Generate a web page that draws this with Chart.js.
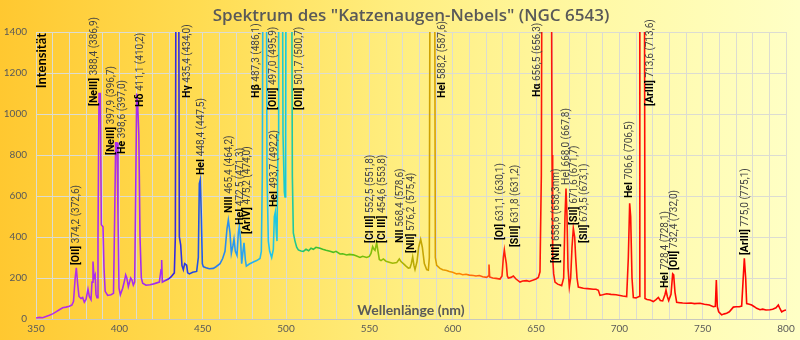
<!DOCTYPE html>
<html><head><meta charset="utf-8">
<script src="https://cdn.jsdelivr.net/npm/chart.js@4/dist/chart.umd.min.js"></script>
<style>html,body{margin:0;padding:0;background:#fff}canvas{display:block}</style>
</head><body>
<canvas id="c" width="800" height="340"></canvas>
<script>
// ---- data ----
const wavelengths = [
350,352,354,356,358,360,362,364,366,368,370,371.5,372.5,373.5,374.2,375,375.8,377,378,379,380,381.2,382,383,383.6,384.2,384.8,385.5,386,386.6,387.2,387.8,388.6,389.2,390.2,390.8,391.5,393,395,396.5,397.2,397.8,398.6,399.2,399.8,400.6,402,403.2,403.8,404.5,405.4,406.8,407.6,408.4,409.2,409.8,410.4,411,411.7,412.4,413.2,414,416,418.4,420,422,424,425,425.4,425.8,427,429.4,431,433,433.6,434.2,435.4,436,436.8,437.6,438.4,439.2,440.4,441,442,444,446.4,447.4,448,448.6,449.2,449.8,450.4,452,454,456.4,458,460.4,462,463.4,464.6,465.4,466.4,467.2,468.2,468.8,469.6,470.6,471.4,472,472.8,473.4,474.2,474.8,475.6,476.2,478,480.4,482.4,484.4,485.2,485.8,486.4,488,488.6,489.4,490.2,491.4,492.4,493,493.6,494.2,494.6,495.2,495.6,497.6,498.2,499,499.4,499.8,500.2,503.2,503.8,504.4,505.4,506.4,507.4,509,510.4,512,513.6,515,516.4,518,520.4,522,524,526.4,528.4,530,532.4,534,536.4,538,540.4,542,544.4,546,548.4,550,551,552,552.8,553.4,554.4,555.2,556,557,558.4,560,562.4,564,566.4,568,569,570.4,572,573.4,574.4,575.2,576,576.8,577.4,578.6,579.6,580.8,581.8,583,584.4,585.4,586,586.6,589,589.6,590.4,592.4,594,596.4,598,600,602.4,604,606,608,610,612.4,614,616,618,620.4,621.4,621.8,622.2,624,626,628.4,629.6,630.4,631,631.6,632.2,632.8,633.4,635,636.4,638,640.4,642,644.4,646,648.4,650,651.4,652.4,653.2,653.8,659,659.6,660,660.6,661.4,663,665.4,666.6,667.4,668,668.6,669.2,670,670.8,671.6,672.4,673.2,673.8,674.6,675.4,678.4,681,684.4,686,687.4,688.4,690,692.4,695,698,700.4,702,704.4,705.4,706.2,706.8,707.6,708.4,710,711.8,712.3,714.9,715.4,716.6,718.4,720.4,722,723.4,724.6,726,727.4,728,728.8,729.6,731,732,732.6,733.4,734.4,736,738,740.4,743,745,748.4,751,754,756.4,757.6,758.2,758.8,759.6,761.4,763,764.4,766,768.4,770,772,773.4,774.2,775,775.8,776.4,778,779.4,781,782.4,784.4,786,788,790.4,792,794,795.4,796.4,797.4,799,800
];
const intensity = [
5,8,6,12,18,25,35,45,55,58,62,68,85,200,250,170,110,100,105,82,95,145,110,95,180,280,200,215,120,104,400,1100,1100,460,450,250,135,115,118,125,500,860,860,500,150,118,150,190,215,200,158,200,190,165,180,600,1100,1050,900,400,200,175,165,167,170,175,180,240,288,180,185,195,205,225,400,2500,2500,400,362,260,240,270,262,225,220,228,232,300,660,680,500,270,255,250,245,247,255,270,295,330,440,483,420,320,360,390,330,310,420,452,380,270,330,372,290,258,268,278,285,295,330,700,2500,2500,700,380,330,300,340,500,522,420,380,900,2500,2500,900,620,595,900,2500,2500,700,420,380,350,337,332,330,340,333,345,340,350,345,340,335,330,325,330,317,318,312,315,313,308,300,306,300,305,320,353,340,335,372,330,290,285,293,282,276,272,275,293,280,270,258,248,250,270,303,260,241,280,350,389,350,270,241,238,300,2500,2500,300,262,247,240,237,232,228,220,222,216,218,214,212,210,212,206,203,210,266,205,200,198,195,210,300,337,300,270,210,200,203,210,195,180,185,187,183,190,195,203,230,700,2500,2500,800,300,220,180,170,163,200,500,637,500,250,156,200,350,442,400,300,200,156,150,148,145,145,140,115,118,123,120,118,115,112,109,300,564,500,200,105,103,110,2500,2500,100,95,93,85,95,105,90,88,120,141,110,90,120,220,215,130,82,80,78,77,78,75,77,72,68,60,62,190,60,35,20,25,28,35,58,60,60,63,180,296,200,75,72,68,60,52,45,48,44,45,48,55,68,50,35,42,44
];
const xTickValues = [350,400,450,500,550,600,650,700,750,800];
const yTickValues = [0,200,400,600,800,1000,1200,1400];

// emission line annotations: name, value text, anchor (wavelength, intensity at text start)
const lineNames  = ['[OII]','[NeIII]','[NeIII]','He','Hδ','Hγ','HeI','NIII','HeI','[ArIV]','Hβ','[OIII]','HeI','[OIII]','[Cl III]','[Cl III]','NII','[NII]','HeI','[OI]','[SIII]','Hα','[NII]','HeI','[SII]','[SII]','HeI','[ArIII]','HeI','[OII]','[ArIII]'];
const lineValues = ['374,2 (372,6)','388,4 (386,9)','397,9 (396,7)','398,6 (397,0)','411,1 (410,2)','435,4 (434,0)','448,4 (447,5)','465,4 (464,2)','472,5 (471,3)','475,2 (474,0)','487,3 (486,1)','497,0 (495,9)','493,7 (492,2)','501,7 (500,7)','552,5 (551,8)','454,6 (553,8)','568,4 (578,6)','576,2 (575,4)','588,2 (587,6)','631,1 (630,1)','631,8 (631,2)','656,5 (656,3)','658,6 (658,3nm)','668,0 (667,8)','671,6 (671,7)','673,5 (673,1)','706,6 (706,5)','713,6 (713,6)','728,4 (728,1)','732,4 (732,0)','775,0 (775,1)'];
const labelWave  = [374.4,384.8,395,401.8,412.4,440.8,449.4,465.8,472.8,476.8,482.4,492.4,493,508,550.4,558,568.8,575.4,594,628.4,637.4,650.8,662,668.4,673,679,706,718.8,727.4,732.8,775.4];
const labelLevel = [263,1039,800,805,1034,1078,702,517,459,415,1078,1020,546,1020,371,371,371,322,1078,385,351,1083,273,654,459,371,590,1039,151,239,312];

const spectrumStops = [[350,'#B82EE6'],[426,'#A02CF0'],[431,'#3A22E0'],[444,'#1E46E2'],[458,'#2A7EEE'],[475,'#28A6F0'],[490,'#22C4EC'],[500,'#1CCCC8'],[508,'#20C47E'],[520,'#3CBE2C'],[540,'#66BE10'],[560,'#96BC06'],[578,'#BCA806'],[590,'#D8A000'],[603,'#FF8A00'],[618,'#FF5A10'],[632,'#FF1A0A'],[800,'#FF0000']];

const plainLabels = new Set([23]);

const pts = wavelengths.map((w,i)=>({x:w,y:intensity[i]}));

const deco = {
  id:'deco',
  beforeDraw(chart){
    const c = chart.ctx, W = chart.width, H = chart.height;
    const g = c.createLinearGradient(0,0,W,0);
    g.addColorStop(0,'#FFC830');
    g.addColorStop(0.25,'#FFDC52');
    g.addColorStop(0.5,'#FFEE80');
    g.addColorStop(0.75,'#FFF9A6');
    g.addColorStop(1,'#FFFFC6');
    c.save(); c.fillStyle = g; c.fillRect(0,0,W,H);
    c.fillStyle = '#595959'; c.font = '600 17px "Open Sans", Lato, sans-serif';
    c.textAlign = 'center'; c.textBaseline = 'middle';
    c.fillText('Spektrum des "Katzenaugen-Nebels" (NGC 6543)', 411, 16);
    c.restore();
  },
  afterDatasetsDraw(chart){
    const c = chart.ctx, xs = chart.scales.x, ys = chart.scales.y, ca = chart.chartArea;
    c.save();
    c.fillStyle = '#000'; c.font = 'bold 13px Lato, sans-serif';
    c.translate(ca.left+6, ca.top+1); c.rotate(-Math.PI/2);
    c.textAlign='right'; c.textBaseline='middle';
    c.fillText('Intensität',0,0);
    c.restore();
    c.save();
    c.fillStyle = '#595959'; c.font = 'bold 14px Lato, sans-serif';
    c.textAlign='center'; c.textBaseline='middle';
    c.fillText('Wellenlänge (nm)', (ca.left+ca.right)/2, ca.bottom-9);
    c.restore();
    lineNames.forEach((nm,i)=>{
      const px = xs.getPixelForValue(labelWave[i]);
      const py = ys.getPixelForValue(labelLevel[i]);
      c.save();
      c.translate(px,py); c.rotate(-Math.PI/2);
      c.textAlign='left'; c.textBaseline='middle';
      const boldName = !plainLabels.has(i);
      c.font = (boldName?'bold ':'') + '10.5px "Liberation Sans Narrow", Roboto, sans-serif';
      c.fillStyle = boldName ? '#000' : '#444';
      c.fillText(nm,0,0);
      const w = c.measureText(nm+' ').width;
      c.font = '10px "Liberation Sans Narrow", Roboto, sans-serif';
      c.fillStyle = '#444';
      c.fillText(lineValues[i], w, 0);
      c.restore();
    });
  }
};

new Chart(document.getElementById('c'), {
  type:'line',
  data:{datasets:[{
    data: pts,
    parsing:false,
    borderWidth:1.6,
    pointRadius:0,
    tension:0,
    borderColor:(ctx)=>{
      const ch = ctx.chart; if(!ch.chartArea) return '#f00';
      const xs = ch.scales.x;
      const g = ch.ctx.createLinearGradient(xs.left,0,xs.right,0);
      spectrumStops.forEach(([w,col])=>g.addColorStop((xs.getPixelForValue(w)-xs.left)/(xs.right-xs.left),col));
      return g;
    }
  }]},
  options:{
    responsive:false, animation:false, devicePixelRatio:1,
    layout:{padding:{top:32,right:14,left:0,bottom:0}},
    plugins:{legend:{display:false},tooltip:{enabled:false},title:{display:false}},
    scales:{
      x:{type:'linear',min:350,max:800,
        afterBuildTicks(s){ const t=[]; for(let v=350; v<=800; v+=10) t.push({value:v}); s.ticks=t; },
        afterFit(s){ s.height=21; },
        ticks:{autoSkip:false,maxRotation:0,padding:4,color:'#595959',font:{size:10,family:'Lato, sans-serif'},
          callback:(v)=> xTickValues.includes(v) ? String(v) : ''},
        grid:{color:'#DCDCD2',lineWidth:1,drawTicks:false},
        border:{color:'#C8C8BE'}
      },
      y:{min:0,max:1400,
        afterBuildTicks(s){ s.ticks = yTickValues.map(v=>({value:v})); },
        afterFit(s){ s.width=36; },
        ticks:{padding:9,color:'#595959',font:{size:10,family:'Lato, sans-serif'},callback:(v)=>String(v)},
        grid:{color:'#DCDCD2',lineWidth:1,drawTicks:false},
        border:{display:false}
      }
    }
  },
  plugins:[deco]
});
</script>
</body></html>
